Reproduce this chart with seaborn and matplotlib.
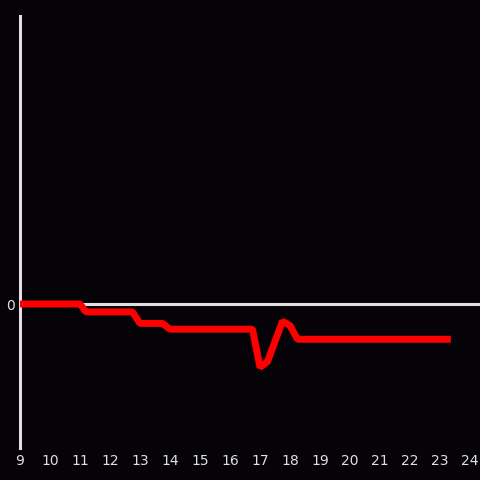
import pandas as pd
import matplotlib
matplotlib.use("Agg")
import matplotlib.pyplot as plt
import seaborn as sns

# time of day (hours) and value
hours = [9.0, 11.0, 11.2, 12.75, 13.0, 13.75, 14.0, 16.75, 17.0, 17.25, 17.75, 18.0, 18.25, 23.36]
values = [0.0, 0.0, -0.055, -0.055, -0.135, -0.135, -0.175, -0.175, -0.44, -0.40, -0.12, -0.15, -0.245, -0.245]
x_ticks = list(range(9, 25))

df = pd.DataFrame({"hour": hours, "value": values})

bg = "#050307"
fg = "#e0e0e0"

sns.set_theme(style="white")
fig = plt.figure(figsize=(4.8, 4.8), dpi=100, facecolor=bg)
ax = fig.add_axes([20 / 480, 32 / 480, 460 / 480, 432 / 480])
ax.set_facecolor(bg)

ax.axhline(0, color=fg, lw=2.2, zorder=1)
sns.lineplot(data=df, x="hour", y="value", color="#ff0000", lw=5, ax=ax, zorder=3,
             solid_capstyle="butt", solid_joinstyle="bevel")

ax.set_xlim(9, 24.333)
ax.set_ylim(-1, 2)
ax.set_xticks(x_ticks)
ax.set_xticklabels([str(t) for t in x_ticks])
ax.set_yticks([0])
ax.set_yticklabels(["0"])
ax.tick_params(colors=fg, labelsize=10, length=0, pad=4)
ax.set_xlabel("")
ax.set_ylabel("")

for s in ["top", "right", "bottom"]:
    ax.spines[s].set_visible(False)
ax.spines["left"].set_color(fg)
ax.spines["left"].set_linewidth(2.2)

fig.savefig("out.png", facecolor=bg)
